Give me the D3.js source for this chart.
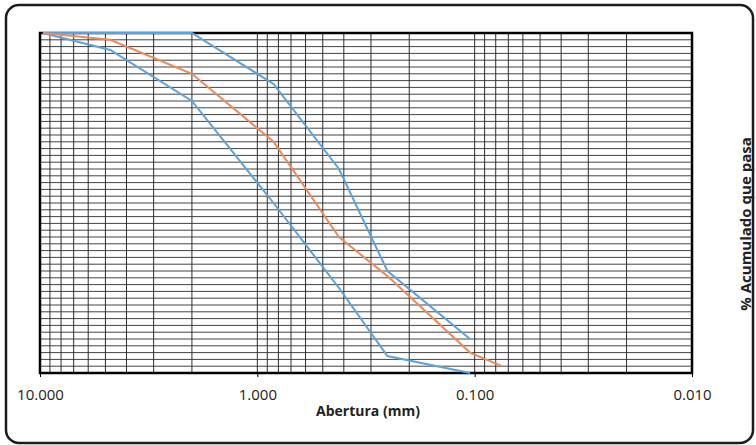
<!DOCTYPE html>
<html>
<head>
<meta charset="utf-8">
<script src="https://cdn.jsdelivr.net/npm/d3@7"></script>
<style>
body{margin:0;background:#fff}
svg{display:block}
</style>
</head>
<body>
<div id="chart"></div>
<script>
// sieve openings (mm) and % passing
const sizes=[9.7,4.75,2.0,0.842,0.421,0.252,0.105]
const upperLimit=[100,100,100,85,60,30,10]
const lowerLimit=[100,95,80,50,25,5,0]
const sampleSizes=[9.7,4.75,2.0,0.842,0.421,0.252,0.105,0.075]
const samplePassing=[100,98,88,68,40,28.5,6,2]
const tickValues=[10,1,0.1,0.01]

const width=756
const height=445
const plotLeft=40,plotRight=692,plotTop=33,plotBottom=373

const svg=d3.select("#chart")
.append("svg")
.attr("width",width)
.attr("height",height)

svg.append("rect")
.attr("x",6).attr("y",5)
.attr("width",747).attr("height",438)
.attr("rx",13)
.attr("fill","#fff")
.attr("stroke","#1c1c1c")
.attr("stroke-width",2.5)

const x=d3.scaleLog().domain([10,0.01]).range([plotLeft,plotRight])
const y=d3.scaleLinear().domain([0,100]).range([plotBottom,plotTop])

// grid
const hLines=d3.range(2,100,2)
svg.append("g")
.selectAll("line")
.data(hLines)
.enter()
.append("line")
.attr("x1",plotLeft).attr("x2",plotRight)
.attr("y1",d=>y(d)).attr("y2",d=>y(d))
.attr("stroke","#444")
.attr("stroke-width",1)

const vLines=[]
;[1,0.1,0.01].forEach(dec=>{
for(let k=1;k<10;k++) vLines.push(dec*k)
})
svg.append("g")
.selectAll("line")
.data(vLines.filter(v=>v>0.01&&v<10))
.enter()
.append("line")
.attr("x1",d=>x(d)).attr("x2",d=>x(d))
.attr("y1",plotTop).attr("y2",plotBottom)
.attr("stroke","#2e2e2e")
.attr("stroke-width",1)

// plot frame
svg.append("rect")
.attr("x",plotLeft).attr("y",plotTop)
.attr("width",plotRight-plotLeft).attr("height",plotBottom-plotTop)
.attr("fill","none")
.attr("stroke","#000")
.attr("stroke-width",2.5)

// x axis
const xAxis=d3.axisBottom(x)
.tickValues(tickValues)
.tickFormat(d3.format(".3f"))
.tickSize(4)
.tickPadding(12)

const ax=svg.append("g")
.attr("transform",`translate(0,${plotBottom})`)
.call(xAxis)
ax.select(".domain").remove()
ax.selectAll("line").attr("stroke","#000")
ax.selectAll("text")
.attr("font-family","Open Sans")
.attr("font-size",15)
.attr("fill","#222")

svg.append("text")
.attr("x",368).attr("y",416)
.attr("text-anchor","middle")
.attr("font-family","Open Sans")
.attr("font-weight","bold")
.attr("font-size",14)
.attr("fill","#222")
.text("Abertura (mm)")

svg.append("text")
.attr("transform","translate(751,224) rotate(-90)")
.attr("text-anchor","middle")
.attr("font-family","Open Sans")
.attr("font-weight","bold")
.attr("font-size",15)
.attr("fill","#222")
.text("% Acumulado que pasa")

// curves
const line=d3.line().x(d=>x(d[0])).y(d=>y(d[1]))

const curves=[
{pts:sizes.map((s,i)=>[s,upperLimit[i]]),color:"#5ba3dc"},
{pts:sizes.map((s,i)=>[s,lowerLimit[i]]),color:"#5ba3dc"},
{pts:sampleSizes.map((s,i)=>[s,samplePassing[i]]),color:"#ec8a5a"}
]

svg.append("g")
.selectAll("path")
.data(curves)
.enter()
.append("path")
.attr("d",d=>line(d.pts))
.attr("fill","none")
.attr("stroke",d=>d.color)
.attr("stroke-width",2)
</script>
</body>
</html>
